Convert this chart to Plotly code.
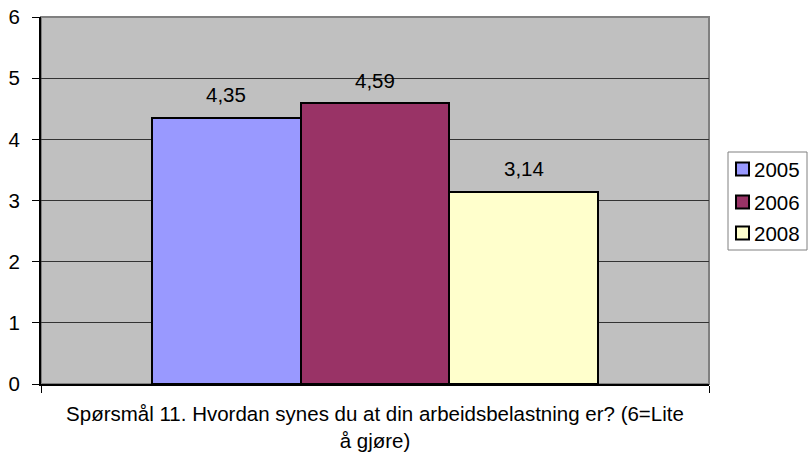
import plotly.graph_objects as go

series = ["2005", "2006", "2008"]
values = [4.35, 4.59, 3.14]
colors = ["#9999FF", "#993366", "#FFFFCC"]
x_title = "Spørsmål 11. Hvordan synes du at din arbeidsbelastning er? (6=Lite<br>å gjøre)"
y_ticks = [0, 1, 2, 3, 4, 5, 6]

FONT = "Liberation Sans, Arial, sans-serif"
FS = 20.5
W, H = 808, 456
L, R, T, B = 41, 99, 17, 72
PW, PH = W - L - R, H - T - B


def px(x):
    return (x - L) / PW


def py(y):
    return (H - B - y) / PH


fig = go.Figure()
for i, (s, v, c) in enumerate(zip(series, values, colors)):
    fig.add_trace(go.Bar(
        x=[i], y=[v], name=s, width=1, showlegend=False,
        marker=dict(color=c, line=dict(color="black", width=2)),
    ))
    fig.add_annotation(x=i, y=v, text=f"{v:.2f}".replace(".", ","),
                       showarrow=False, yshift=23,
                       font=dict(size=FS, color="black", family=FONT))

# legend box drawn in paper coordinates
fig.add_shape(type="rect", xref="paper", yref="paper",
              x0=px(728), x1=px(807), y0=py(250), y1=py(152),
              line=dict(color="#808080", width=1), fillcolor="white")
leg_y = [169, 202, 233]
for s, c, ly in zip(series, colors, leg_y):
    fig.add_shape(type="rect", xref="paper", yref="paper",
                  x0=px(736), x1=px(749), y0=py(ly + 6.5), y1=py(ly - 6.5),
                  line=dict(color="black", width=2), fillcolor=c)
    fig.add_annotation(xref="paper", yref="paper", x=px(752), y=py(ly),
                       xanchor="left", yanchor="middle", text=s, showarrow=False,
                       font=dict(size=FS, color="black", family=FONT))

xr = [-1.242, 3.242]
fig.update_layout(
    width=W, height=H,
    margin=dict(l=L, r=R, t=T, b=B, autoexpand=False),
    paper_bgcolor="white", plot_bgcolor="#C0C0C0",
    font=dict(family=FONT, size=FS, color="black"),
    showlegend=False,
    xaxis=dict(range=xr, tickvals=xr, showticklabels=False, ticks="outside",
               ticklen=7, tickcolor="black", showline=True, linecolor="black",
               linewidth=2, showgrid=False, zeroline=False, automargin=False,
               title=dict(text=x_title, font=dict(size=FS), standoff=15)),
    yaxis=dict(range=[0, 6], tickvals=y_ticks, ticks="outside", ticklen=7,
               tickcolor="black", showline=True, linecolor="black", linewidth=2,
               gridcolor="#333333", gridwidth=1, zeroline=False, automargin=False,
               ticklabelstandoff=8, tickfont=dict(size=FS)),
    bargap=0,
)
fig.add_shape(type="rect", xref="paper", yref="paper", x0=0, x1=1, y0=0, y1=1,
              line=dict(color="#808080", width=2), layer="below")
fig.write_html("out.html", config={"displayModeBar": False},
               post_script="document.body.style.margin='0';document.body.style.overflow='hidden';")
